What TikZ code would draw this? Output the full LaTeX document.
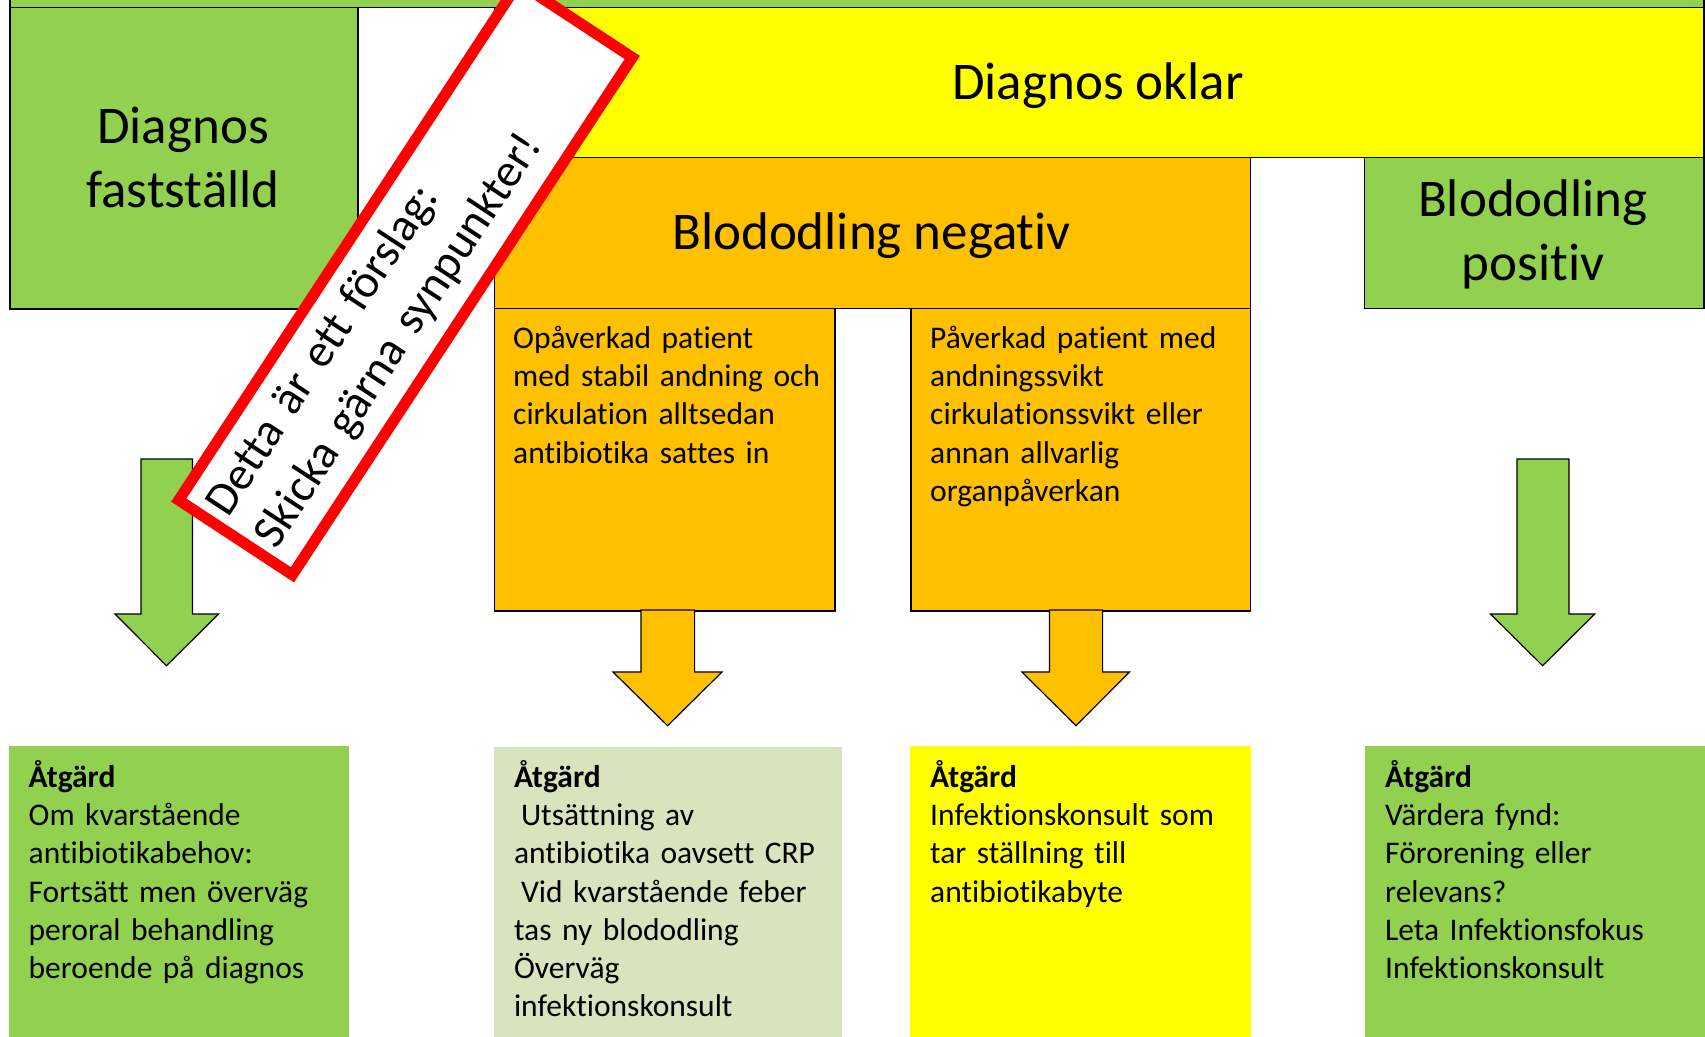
\documentclass[tikz,border=0pt]{standalone}
\usepackage{fontspec}
\setmainfont{Carlito}[Ligatures={NoCommon,NoContextual}]
\definecolor{cgreen}{HTML}{92D050}
\definecolor{cyellow}{HTML}{FFFF00}
\definecolor{corange}{HTML}{FFC000}
\definecolor{cpale}{HTML}{D7E4BD}
\newcommand{\mybigfont}{\fontsize{53}{64}\selectfont}
\newcommand{\mysmallfont}{\fontsize{31.5}{38.3}\selectfont}
\newcommand{\myredfont}{\fontsize{47}{58}\selectfont}
\begin{document}
\begin{tikzpicture}[x=1pt,y=-1pt,
  boxn/.style={draw=black, line width=1.5pt, inner sep=0pt, anchor=north west},
  plainbox/.style={inner sep=0pt, anchor=north west},
  blockarrow/.style={draw=black, line width=1.2pt, line join=miter},
  bigtext/.style={font=\mybigfont, inner sep=0pt},
  smalltext/.style={font=\mysmallfont, inner sep=0pt, anchor=north west, align=left, text width=330pt},
  notebox/.style={draw=red, line width=11pt, fill=white, minimum width=619pt, minimum height=136pt,
     rotate=56.7, text width=595pt, inner xsep=12pt, inner ysep=0pt, align=left, font=\myredfont}]
\useasboundingbox (0,0) rectangle (1705,1036);
% top strip
\node[boxn, fill=cgreen, minimum width=1694pt, minimum height=16.5pt] (strip) at (9,-10) {};
% upper boxes
\node[boxn, fill=cgreen, minimum width=348pt, minimum height=301.5pt] (fast) at (9,6.5) {};
\node[boxn, fill=cyellow, minimum width=1209.3pt, minimum height=150.1pt] (oklar) at (493.7,6.5) {};
\node[boxn, fill=corange, minimum width=755.8pt, minimum height=151.1pt] (neg) at (493.7,156.6) {};
\node[boxn, fill=corange, minimum width=340.3pt, minimum height=302.3pt] (opa) at (493.7,307.7) {};
\node[boxn, fill=corange, minimum width=339.5pt, minimum height=302.3pt] (pav) at (910,307.7) {};
\node[boxn, fill=cgreen, minimum width=339.4pt, minimum height=151.1pt] (pos) at (1363.6,156.6) {};
% bottom boxes
\node[plainbox, fill=cgreen, minimum width=339.5pt, minimum height=295pt] (a1) at (9,746) {};
\node[plainbox, fill=cpale, minimum width=347.9pt, minimum height=295pt] (a2) at (493.7,747) {};
\node[plainbox, fill=cyellow, minimum width=341pt, minimum height=295pt] (a3) at (910,746) {};
\node[plainbox, fill=cgreen, minimum width=345pt, minimum height=295pt] (a4) at (1364.7,746) {};
% block arrows
\draw[blockarrow, fill=cgreen] (141,459) -- (192.5,459) -- (192.5,614) -- (218.6,614) -- (166.5,665.7) -- (115,614) -- (141,614) -- cycle;
\draw[blockarrow, fill=corange] (641,610) -- (694.6,610) -- (694.6,672) -- (722,672) -- (667.6,725.7) -- (613,672) -- (641,672) -- cycle;
\draw[blockarrow, fill=corange] (1049.5,610) -- (1102.6,610) -- (1102.6,672) -- (1129.5,672) -- (1076,725.7) -- (1022,672) -- (1049.5,672) -- cycle;
\draw[blockarrow, fill=cgreen] (1517,459) -- (1569,459) -- (1569,614) -- (1594.7,614) -- (1542.6,665.7) -- (1490.5,614) -- (1517,614) -- cycle;
% big texts
\node[bigtext, anchor=north, align=center] (tfast) at (183,98.2) {\strut Diagnos\\fastställd};
\node[bigtext, anchor=base] (toklar) at (1098,99) {Diagnos oklar};
\node[bigtext, anchor=base] (tneg) at (871.6,249) {Blododling negativ};
\node[bigtext, anchor=north, align=center] (tpos) at (1533,171) {\strut Blododling\\positiv};
% small texts
\node[smalltext] (topa) at (513,321.2) {\strut Opåverkad patient\\med stabil andning och\\cirkulation alltsedan\\antibiotika sattes in};
\node[smalltext] (tpav) at (930,321.2) {\strut Påverkad patient med\\andningssvikt\\cirkulationssvikt eller\\annan allvarlig\\organpåverkan};
\node[smalltext] (ta1) at (28.5,759.9) {\strut\textbf{Åtgärd}\\Om kvarstående\\antibiotikabehov:\\Fortsätt men överväg\\peroral behandling\\beroende på diagnos};
\node[smalltext] (ta2) at (513.8,759.9) {\strut\textbf{Åtgärd}\\\hspace*{7pt}Utsättning av\\antibiotika oavsett CRP\\\hspace*{7pt}Vid kvarstående feber\\tas ny blododling\\Överväg\\infektionskonsult};
\node[smalltext] (ta3) at (930,759.9) {\strut\textbf{Åtgärd}\\Infektionskonsult som\\tar ställning till\\antibiotikabyte};
\node[smalltext] (ta4) at (1385,759.9) {\strut\textbf{Åtgärd}\\Värdera fynd:\\Förorening eller\\relevans?\\Leta Infektionsfokus\\Infektionskonsult};
% note
\node[notebox] (note) at (405.5,278.8) {Detta är ett förslag:\\Skicka gärna synpunkter!};
\end{tikzpicture}
\end{document}
